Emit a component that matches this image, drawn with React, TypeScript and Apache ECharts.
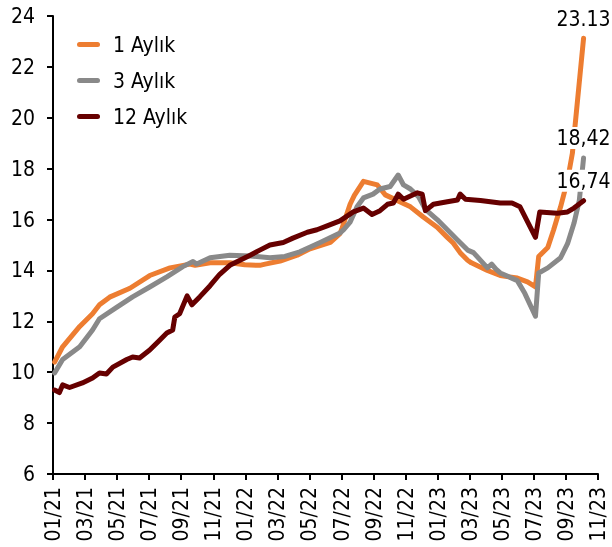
import React, { useEffect, useRef } from "react";
import * as echarts from "echarts";

const xTickLabels = [
  "01/21", "03/21", "05/21", "07/21", "09/21", "11/21",
  "01/22", "03/22", "05/22", "07/22", "09/22", "11/22",
  "01/23", "03/23", "05/23", "07/23", "09/23", "11/23",
];

const seriesNames = ["1 Aylık", "3 Aylık", "12 Aylık"];
const seriesColors = ["#ED7D31", "#898989", "#660000"];
const endLabels = ["23.13", "18,42", "16,74"];

const oneMonthDates = [
  "2021-01-04", "2021-01-19", "2021-02-21", "2021-03-15", "2021-03-28", "2021-04-17",
  "2021-05-25", "2021-07-02", "2021-08-10", "2021-09-17", "2021-09-27", "2021-10-25",
  "2021-12-02", "2021-12-30", "2022-01-28", "2022-02-08", "2022-03-06", "2022-04-08",
  "2022-05-02", "2022-06-10", "2022-06-28", "2022-07-01", "2022-07-17", "2022-07-25",
  "2022-08-12", "2022-09-08", "2022-09-23", "2022-11-10", "2022-12-04", "2022-12-30",
  "2023-01-19", "2023-01-30", "2023-02-13", "2023-02-27", "2023-03-04", "2023-04-04",
  "2023-04-28", "2023-05-30", "2023-06-19", "2023-07-04", "2023-07-10", "2023-07-27",
  "2023-08-08", "2023-08-21", "2023-09-04", "2023-09-13", "2023-10-04",
];
const oneMonthValues = [
  10.4, 11.0, 11.8, 12.3, 12.65, 12.95,
  13.3, 13.8, 14.1, 14.25, 14.2, 14.3,
  14.3, 14.22, 14.2, 14.25, 14.37, 14.6,
  14.85, 15.1, 15.45, 15.6, 16.6, 16.95,
  17.5, 17.36, 16.97, 16.5, 16.1, 15.7,
  15.3, 15.08, 14.7, 14.4, 14.3, 14.0,
  13.8, 13.7, 13.55, 13.35, 14.55, 14.9,
  15.6, 16.5, 17.55, 18.6, 23.13,
];

const threeMonthDates = [
  "2021-01-04", "2021-01-19", "2021-02-21", "2021-03-15", "2021-03-28", "2021-04-30",
  "2021-05-30", "2021-07-02", "2021-08-04", "2021-09-04", "2021-09-23", "2021-09-30",
  "2021-10-25", "2021-12-02", "2022-01-10", "2022-02-17", "2022-03-15", "2022-04-13",
  "2022-05-21", "2022-06-28", "2022-07-05", "2022-07-17", "2022-07-30", "2022-08-12",
  "2022-08-30", "2022-09-13", "2022-10-02", "2022-10-17", "2022-10-27", "2022-11-10",
  "2022-11-25", "2022-12-08", "2022-12-30", "2023-01-19", "2023-02-08", "2023-02-27",
  "2023-03-08", "2023-04-04", "2023-04-12", "2023-04-20", "2023-04-28", "2023-05-30",
  "2023-06-14", "2023-07-04", "2023-07-10", "2023-07-27", "2023-08-21", "2023-09-04",
  "2023-09-16", "2023-09-26", "2023-10-04",
];
const threeMonthValues = [
  9.97, 10.5, 11.0, 11.66, 12.1, 12.55,
  12.96, 13.35, 13.75, 14.15, 14.35, 14.25,
  14.5, 14.6, 14.57, 14.5, 14.55, 14.73,
  15.1, 15.47, 15.6, 15.9, 16.5, 16.85,
  17.0, 17.2, 17.3, 17.75, 17.36, 17.2,
  16.9, 16.4, 16.0, 15.6, 15.2, 14.8,
  14.7, 14.1, 14.25, 14.05, 13.9, 13.6,
  13.1, 12.2, 13.9, 14.1, 14.5, 15.05,
  15.85, 16.75, 18.42,
];

const twelveMonthDates = [
  "2021-01-04", "2021-01-13", "2021-01-19", "2021-02-02", "2021-02-26", "2021-03-15",
  "2021-03-28", "2021-04-11", "2021-04-23", "2021-05-19", "2021-05-30", "2021-06-13",
  "2021-07-02", "2021-07-21", "2021-08-04", "2021-08-15", "2021-08-19", "2021-08-28",
  "2021-09-12", "2021-09-21", "2021-10-06", "2021-10-25", "2021-11-13", "2021-12-02",
  "2021-12-21", "2022-01-10", "2022-01-28", "2022-02-17", "2022-03-12", "2022-03-30",
  "2022-04-27", "2022-05-15", "2022-06-04", "2022-06-28", "2022-07-23", "2022-08-12",
  "2022-08-28", "2022-09-13", "2022-09-27", "2022-10-08", "2022-10-17", "2022-10-27",
  "2022-11-23", "2022-12-02", "2022-12-08", "2022-12-23", "2023-01-19", "2023-02-08",
  "2023-02-13", "2023-02-23", "2023-03-21", "2023-04-28", "2023-05-20", "2023-06-05",
  "2023-07-04", "2023-07-12", "2023-08-15", "2023-09-04", "2023-09-16", "2023-10-04",
];
const twelveMonthValues = [
  9.3, 9.2, 9.5, 9.4, 9.58, 9.77,
  9.97, 9.93, 10.2, 10.5, 10.6, 10.56,
  10.87, 11.27, 11.54, 11.66, 12.17, 12.3,
  13.0, 12.65, 12.97, 13.4, 13.85, 14.2,
  14.4, 14.6, 14.8, 15.0, 15.1, 15.27,
  15.5, 15.6, 15.75, 15.95, 16.3, 16.45,
  16.2, 16.35, 16.6, 16.65, 17.0, 16.8,
  17.05, 17.0, 16.35, 16.6, 16.7, 16.77,
  17.0, 16.8, 16.75, 16.65, 16.65, 16.5,
  15.3, 16.3, 16.25, 16.3, 16.45, 16.74,
];

const FONT = "'DejaVu Sans Condensed', 'DejaVu Sans', sans-serif";
const FONT_SIZE = 21;

function monthIndex(d: string): number {
  const [y, m, day] = d.split("-").map(Number);
  return (y - 2021) * 12 + (m - 1) + (day - 1) / 30;
}

function buildData(dates: string[], values: number[], label: string) {
  return dates.map((d, i) => {
    const point = [monthIndex(d), values[i]];
    if (i === dates.length - 1) {
      return {
        value: point,
        label: {
          show: true,
          position: "top",
          distance: 9,
          formatter: label,
          color: "#000",
          fontFamily: FONT,
          fontSize: FONT_SIZE,
          backgroundColor: "#ffffff",
          padding: [1, 1, 0, 1],
        },
      };
    }
    return point;
  });
}

const LEGEND_ICON =
  "path://M2.5,0 L20.5,0 A2.5,2.5 0 0 1 20.5,5 L2.5,5 A2.5,2.5 0 0 1 2.5,0 Z";

export default function App() {
  const ref = useRef<HTMLDivElement>(null);

  useEffect(() => {
    if (!ref.current) return;
    const chart = echarts.init(ref.current, undefined, { renderer: "svg" });
    const allDates = [oneMonthDates, threeMonthDates, twelveMonthDates];
    const allValues = [oneMonthValues, threeMonthValues, twelveMonthValues];

    chart.setOption({
      animation: false,
      textStyle: { fontFamily: FONT },
      grid: { left: 53, right: 14, top: 16, bottom: 73, containLabel: false },
      legend: {
        orient: "vertical",
        left: 72,
        top: 29,
        itemWidth: 23,
        itemHeight: 5,
        itemGap: 15,
        icon: LEGEND_ICON,
        textStyle: {
          fontFamily: FONT,
          fontSize: FONT_SIZE,
          color: "#000",
          padding: [0, 0, 0, 8],
        },
        data: seriesNames,
      },
      xAxis: {
        type: "value",
        min: 0,
        max: 34,
        interval: 2,
        axisLine: { show: true, lineStyle: { color: "#000", width: 2 } },
        axisTick: { show: true, length: 6, lineStyle: { color: "#000", width: 2 } },
        splitLine: { show: false },
        axisLabel: {
          rotate: 90,
          margin: 13,
          color: "#000",
          fontFamily: FONT,
          fontSize: FONT_SIZE,
          formatter: (v: number) => xTickLabels[Math.round(v / 2)] ?? "",
        },
      },
      yAxis: {
        type: "value",
        min: 6,
        max: 24,
        interval: 2,
        axisLine: { show: true, lineStyle: { color: "#000", width: 2 } },
        axisTick: { show: true, length: 6, lineStyle: { color: "#000", width: 2 } },
        splitLine: { show: false },
        axisLabel: {
          margin: 18,
          color: "#000",
          fontFamily: FONT,
          fontSize: FONT_SIZE,
        },
      },
      series: seriesNames.map((name, i) => ({
        name,
        type: "line",
        z: 2 + i,
        data: buildData(allDates[i], allValues[i], endLabels[i]),
        showSymbol: true,
        symbol: "circle",
        symbolSize: 0,
        color: seriesColors[i],
        lineStyle: { color: seriesColors[i], width: 5, cap: "round", join: "round" },
        itemStyle: { color: seriesColors[i] },
        label: { show: false },
        emphasis: { disabled: true },
      })),
    });

    return () => chart.dispose();
  }, []);

  return (
    <div
      ref={ref}
      style={{ position: "fixed", left: 0, top: 0, width: 612, height: 547 }}
    />
  );
}
